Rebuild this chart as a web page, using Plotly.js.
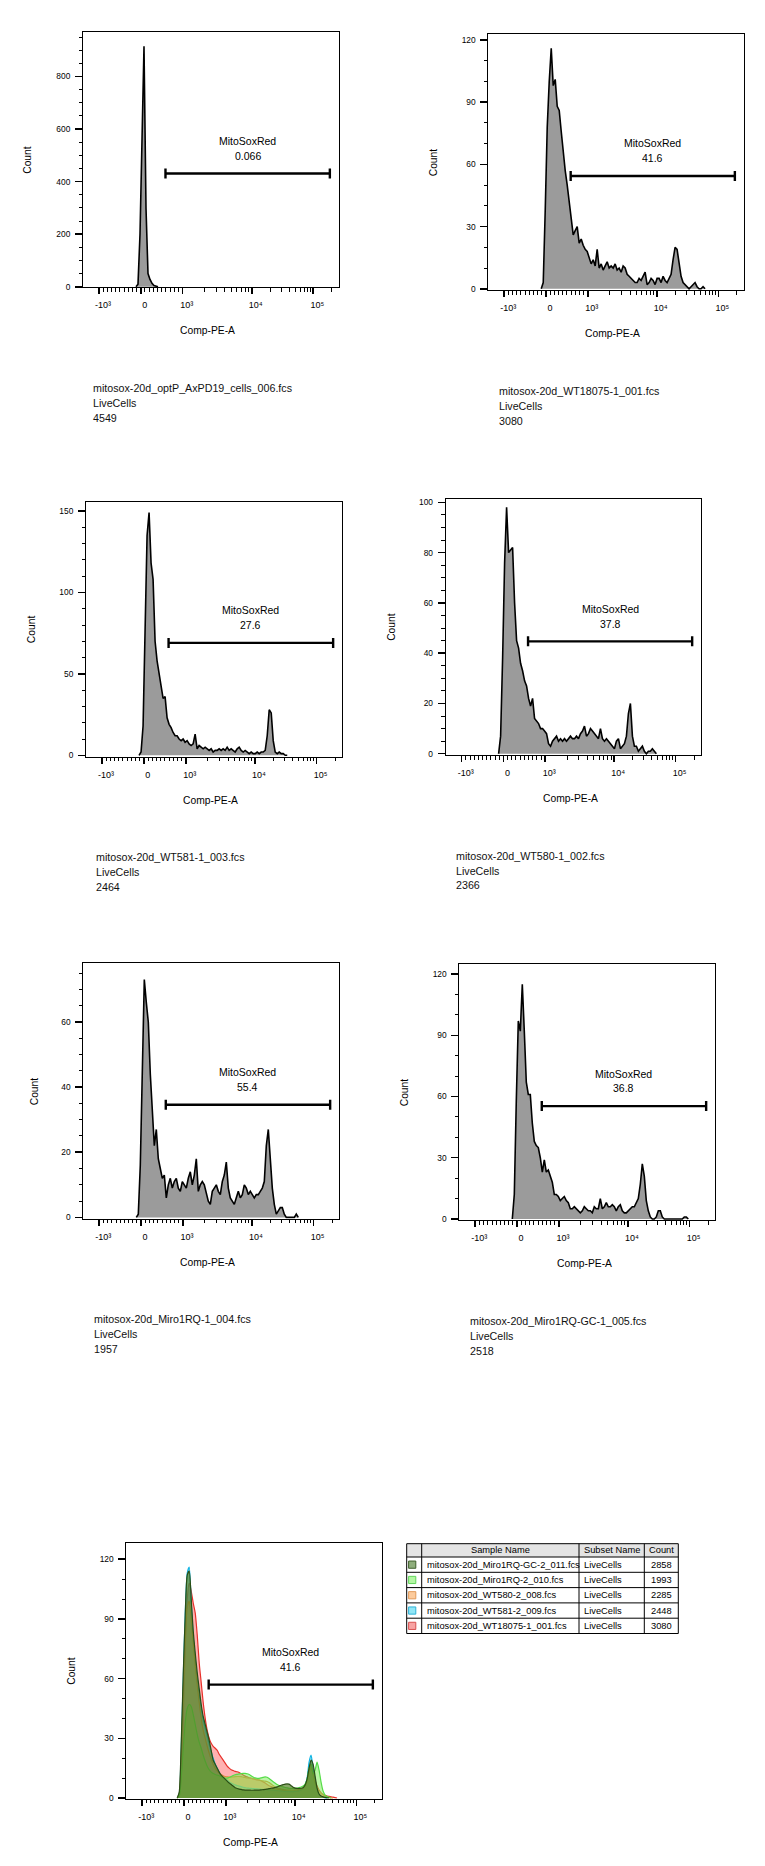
<!DOCTYPE html>
<html><head><meta charset="utf-8">
<script src="https://cdn.plot.ly/plotly-3.0.1.min.js"></script>
<style>html,body{margin:0;padding:0;background:#fff}</style>
</head><body><div id="chart" style="width:765px;height:1866px"></div>
<script>
// ================= DATA =================
// Histogram counts per display channel bin (bin width 2 display channels), first bin centre given.
const BIN = 2;

const p1_firstU = 53;
const p1_counts = [0, 10, 200, 560, 915, 300, 50, 28, 13, 5, 1, 0];

const p2_firstU = 53;
const p2_counts = [0, 3, 38, 78, 100, 116, 98, 101, 88, 86, 76, 66, 57, 50, 41, 32, 26, 28, 30, 22,
  24, 21, 19, 18, 15, 12, 14, 11, 19, 10, 12, 9, 11, 13, 10, 11, 10, 12, 9, 10,
  8, 11, 10, 7, 6, 5, 4, 3, 3, 5, 4, 6, 8, 2, 3, 5, 4, 2, 5, 5,
  3, 6, 4, 3, 5, 7, 14, 20, 19, 11, 6, 3, 2, 1, 0, 1, 2, 3, 1, 0, 0, 1, 0];

const p3_firstU = 53;
const p3_counts = [0, 2, 18, 85, 135, 149, 118, 108, 70, 58, 50, 40, 35, 36, 23, 19, 17, 14, 12, 12,
  10, 9, 10, 8, 9, 7, 6, 7, 13, 4, 6, 5, 4, 5, 4, 3, 4, 2, 3, 3,
  4, 3, 4, 3, 5, 3, 4, 3, 2, 4, 5, 3, 2, 3, 2, 1, 2, 1, 1, 2,
  1, 2, 2, 3, 12, 28, 26, 9, 2, 1, 2, 1, 1, 0, 0];

const p4_firstU = 53;
const p4_counts = [0, 7, 38, 76, 98, 80, 81, 82, 60, 45, 42, 36, 33, 29, 27, 22, 19, 22, 14, 13,
  12, 10, 10, 9, 8, 4, 3, 5, 6, 7, 5, 6, 5, 6, 5, 6, 7, 6, 6, 7,
  6, 8, 9, 11, 7, 8, 10, 9, 8, 7, 6, 10, 6, 5, 6, 5, 4, 3, 2, 5,
  6, 2, 3, 4, 7, 16, 20, 7, 3, 3, 1, 2, 3, 1, 0, 1, 1, 2, 1, 0];

const p5_firstU = 53;
const p5_counts = [0, 1, 16, 48, 73, 66, 60, 44, 33, 22, 27, 18, 15, 12, 13, 6, 10, 12, 9, 11,
  12, 9, 8, 11, 10, 9, 12, 14, 10, 13, 18, 8, 10, 11, 10, 7, 5, 4, 8, 9,
  10, 8, 7, 11, 13, 17, 9, 6, 5, 4, 6, 8, 6, 7, 10, 9, 7, 8, 7, 6,
  7, 7, 8, 9, 11, 22, 27, 16, 9, 4, 1, 2, 3, 3, 1, 0, 0, 0, 0, 0, 1, 0];

const p6_firstU = 53;
const p6_counts = [0, 12, 58, 97, 92, 115, 92, 67, 61, 61, 47, 38, 36, 35, 30, 23, 29, 23, 24, 21,
  18, 12, 12, 11, 9, 10, 11, 9, 8, 5, 5, 6, 5, 4, 3, 4, 6, 5, 4, 4,
  3, 6, 5, 5, 10, 5, 6, 8, 6, 6, 7, 6, 4, 6, 7, 4, 3, 3, 4, 5,
  6, 6, 8, 10, 17, 27, 21, 9, 4, 1, 0, 0, 1, 4, 4, 1, 0, 0, 0, 0,
  0, 0, 0, 0, 0, 0, 1, 1, 0];

// Overlay (smoothed) series, first bin centre 51
const ov_firstU = 51;
const ov_GC2 = [0, 3, 28, 62, 92, 112, 114, 100, 84, 73, 63, 55, 47, 41, 37, 33, 29, 24, 19, 17,
  15, 13, 11.5, 10.5, 9.5, 8.5, 7.5, 6.8, 6, 5.2, 4.8, 4.5, 4.3, 4.1, 4, 4, 4, 3.9, 3.9, 4,
  4, 4, 4.1, 4.2, 4.3, 4.5, 4.7, 4.9, 5, 5.3, 5.6, 6, 6.4, 6.7, 7, 7.1, 7, 6.2, 5.4, 5,
  4.8, 4.8, 4.9, 5.2, 6.5, 9.5, 15, 19, 17, 11, 5, 2, 1, 0.6, 0.3, 0.1, 0];
const ov_RQ2 = [0, 1, 10, 25, 38, 45, 47, 46, 42, 37, 32, 28, 25, 21.5, 18.5, 16, 14.2, 13, 12.3, 11.8,
  11.5, 11.2, 10.8, 10.3, 10, 10, 10.3, 10.8, 11.3, 11.7, 11.9, 12.1, 12.3, 12.4, 12.4, 12.2, 11.8, 11.2, 10.6, 10.1,
  9.9, 9.9, 10.1, 10.4, 10.6, 10.4, 9.8, 9, 8.2, 7.5, 6.8, 6.3, 5.9, 5.6, 5.3, 5.1, 4.9, 4.8, 4.8, 4.9,
  5, 5.2, 5.5, 6, 7, 9.5, 15, 17, 12, 14, 18, 14, 8, 3.5, 1.5, 0.7, 0.3, 0];
const ov_WT580 = [0, 2, 20, 52, 80, 96, 99, 90, 78, 67, 57, 48, 40, 34, 30, 26, 22.5, 19.5, 17, 15,
  13.5, 12.5, 11.8, 11.2, 10.8, 10.6, 10.5, 10.5, 10.6, 10.7, 10.8, 10.8, 10.7, 10.5, 10.3, 10.1, 10, 9.9, 9.8, 9.6,
  9.4, 9.1, 8.8, 8.6, 8.5, 8.3, 7.8, 7, 6.3, 5.6, 5.1, 4.8, 4.5, 4.3, 4.1, 4, 4, 3.9, 3.9, 4,
  4.1, 4.3, 4.6, 5, 6, 8.5, 13, 15.5, 12, 7.5, 5, 3.5, 2.5, 1.6, 1, 0.6, 0.3, 0.1, 0];
const ov_WT581 = [0, 2, 25, 60, 93, 113, 116, 98, 81, 70, 60, 52, 45, 39, 35, 31, 27, 23, 20, 17,
  15, 13, 11, 10, 9.5, 9, 8.2, 7.5, 7, 6.6, 6.3, 6, 5.7, 5.4, 5.2, 5, 4.9, 4.8, 4.7, 4.6,
  4.6, 4.5, 4.4, 4.3, 4.2, 4.1, 4, 4, 3.9, 3.8, 3.7, 3.6, 3.5, 3.4, 3.3, 3.2, 3.2, 3.2, 3.2, 3.3,
  3.4, 3.6, 4, 5, 6.5, 10, 18, 21.5, 15, 8, 4, 1.8, 0.9, 0.4, 0.1, 0];
const ov_WT18075 = [0, 1, 10, 40, 75, 100, 108, 104, 98, 93, 82, 68, 58, 48, 40, 34, 30, 27.5, 26, 25,
  24, 22, 20.5, 19, 17.5, 16, 15, 14.2, 13.8, 13.4, 13.2, 12.8, 12.2, 11.6, 11, 10.6, 10.2, 9.9, 9.6, 9.3,
  9.1, 8.9, 8.6, 8.1, 7.5, 6.8, 6.2, 5.8, 5.4, 5, 4.6, 4.3, 4, 3.8, 3.6, 3.4, 3.3, 3.2, 3.2, 3.3,
  3.5, 3.8, 4.2, 4.8, 5.7, 8, 13, 17, 14, 9, 6, 4, 2.6, 1.8, 1.3, 1, 0.8, 0.6, 0.4, 0.2, 0];

// Gate (data units) and results
const gateRange = [590, 186000];
const gateName = 'MitoSoxRed';
const gateValues = ['0.066', '41.6', '27.6', '37.8', '55.4', '36.8', '41.6'];
const gateY = [431, 54.4, 69.0, 44.7, 34.6, 55.3, 57.0];

// Sample captions
const fileNames = ['mitosox-20d_optP_AxPD19_cells_006.fcs', 'mitosox-20d_WT18075-1_001.fcs',
  'mitosox-20d_WT581-1_003.fcs', 'mitosox-20d_WT580-1_002.fcs',
  'mitosox-20d_Miro1RQ-1_004.fcs', 'mitosox-20d_Miro1RQ-GC-1_005.fcs'];
const subsetName = 'LiveCells';
const eventCounts = ['4549', '3080', '2464', '2366', '1957', '2518'];

// Overlay table
const tableNames = ['mitosox-20d_Miro1RQ-GC-2_011.fcs', 'mitosox-20d_Miro1RQ-2_010.fcs',
  'mitosox-20d_WT580-2_008.fcs', 'mitosox-20d_WT581-2_009.fcs', 'mitosox-20d_WT18075-1_001.fcs'];
const tableSubsets = ['LiveCells', 'LiveCells', 'LiveCells', 'LiveCells', 'LiveCells'];
const tableCounts = ['2858', '1993', '2285', '2448', '3080'];

// Axis ticks (data units)
const xMajor = [-1000, 0, 1000, 10000, 100000];
const xMajorText = ['-10\u00B3', '0', '10\u00B3', '10\u2074', '10\u2075'];
const xMinor = [-900,-800,-700,-600,-500,-400,-300,-200,-100,100,200,300,400,500,600,700,800,900,
  2000,3000,4000,5000,6000,7000,8000,9000,20000,30000,40000,50000,60000,70000,80000,90000,200000];
const yMajorStep = [200, 30, 50, 20, 20, 30, 30];
const yMinorStep = [50, 10, 10, 5, 5, 10, 10];
const yRanges = [[-2, 968], [-0.6, 122.9], [-0.86, 155.7], [-0.5, 101.2], [-0.4, 78], [-0.5, 124.9], [-0.35, 128]];

// ================= SCALE (biexponential display) =================
const ZERO_U = 57.8, LIN_SLOPE = 0.04183;
const LOG_L = [3, 3.301, 3.699, 4, 4.699, 5, 5.5];
const LOG_U = [99.63, 121.5, 148.5, 168.7, 212.5, 230.3, 261];
function toU(v) {
  if (v <= 1000) return ZERO_U + LIN_SLOPE * v;
  const l = Math.log10(v);
  for (let i = 0; i < LOG_L.length - 1; i++) {
    if (l <= LOG_L[i + 1]) return LOG_U[i] + (l - LOG_L[i]) / (LOG_L[i + 1] - LOG_L[i]) * (LOG_U[i + 1] - LOG_U[i]);
  }
  return LOG_U[LOG_U.length - 1];
}

// ================= LAYOUT GEOMETRY (px) =================
const W = 765, H = 1866;
const frames = [
  {l: 83, r: 339, t: 32.3, b: 287.3},
  {l: 488.3, r: 744, t: 34, b: 290},
  {l: 86, r: 342.3, t: 501.7, b: 756.7},
  {l: 445.7, r: 701.3, t: 499.3, b: 755},
  {l: 83.3, r: 339.3, t: 963.3, b: 1218.7},
  {l: 459.3, r: 715.3, t: 964, b: 1220},
  {l: 126.3, r: 382, t: 1543.3, b: 1798.7}
];
const countOff = [55, 55, 55, 55, 49, 55, 55.5];
const px = x => x / W, py = y => 1 - y / H;
const FONT = 'Liberation Sans, Arial, sans-serif';

const singles = [
  [p1_firstU, p1_counts], [p2_firstU, p2_counts], [p3_firstU, p3_counts],
  [p4_firstU, p4_counts], [p5_firstU, p5_counts], [p6_firstU, p6_counts]
];

const traces = [];
singles.forEach((p, i) => {
  const ax = i === 0 ? '' : String(i + 1);
  traces.push({
    type: 'scatter', mode: 'lines',
    x: p[1].map((_, k) => p[0] + k * BIN), y: p[1],
    xaxis: 'x' + ax, yaxis: 'y' + ax,
    fill: 'tozeroy', fillcolor: '#9b9b9b',
    line: {color: '#000', width: 1.6}, hoverinfo: 'skip'
  });
});

// Overlay: drawn bottom-to-top
const overlay = [
  {y: ov_WT18075, line: '#e8302a', fill: 'rgba(255,70,70,0.42)'},
  {y: ov_WT581, line: '#10b4e4', fill: 'rgba(20,200,240,0.42)'},
  {y: ov_WT580, line: '#d98b3c', fill: 'rgba(255,165,80,0.45)'},
  {y: ov_RQ2, line: '#55dc48', fill: 'rgba(120,235,80,0.5)'},
  {y: ov_GC2, line: '#2b4e15', fill: 'rgba(80,128,36,0.68)'}
];
overlay.forEach(s => {
  traces.push({
    type: 'scatter', mode: 'lines',
    x: s.y.map((_, k) => ov_firstU + k * BIN), y: s.y,
    xaxis: 'x7', yaxis: 'y7', fill: 'tozeroy', fillcolor: s.fill,
    line: {color: s.line, width: 1.2, shape: 'spline', smoothing: 0.6}, hoverinfo: 'skip'
  });
});

const layout = {
  width: W, height: H, margin: {l: 0, r: 0, t: 0, b: 0},
  paper_bgcolor: '#fff', plot_bgcolor: '#fff', showlegend: false,
  font: {family: FONT, color: '#000', size: 10},
  shapes: [], annotations: []
};

const gU0 = toU(gateRange[0]), gU1 = toU(gateRange[1]), gUc = (gU0 + gU1) / 2;

frames.forEach((f, i) => {
  const n = i === 0 ? '' : String(i + 1);
  layout['xaxis' + n] = {
    domain: [px(f.l), px(f.r)], anchor: 'y' + n, range: [0, 256],
    showline: true, mirror: true, linecolor: '#000', linewidth: 1,
    showgrid: false, zeroline: false, fixedrange: true,
    tickmode: 'array', tickvals: xMajor.map(toU), ticktext: xMajorText,
    ticks: 'outside', ticklen: 6, tickwidth: 1.6, tickcolor: '#000',
    ticklabelstandoff: 3, ticklabelshift: 4,
    tickfont: {size: 9, family: FONT, color: '#000'},
    minor: {tickmode: 'array', tickvals: xMinor.map(toU), ticks: 'outside', ticklen: 3.5, tickwidth: 1, tickcolor: '#000'}
  };
  layout['yaxis' + n] = {
    domain: [py(f.b), py(f.t)], anchor: 'x' + n, range: yRanges[i],
    showline: true, mirror: true, linecolor: '#000', linewidth: 1,
    showgrid: false, zeroline: false, fixedrange: true,
    tickmode: 'linear', tick0: 0, dtick: yMajorStep[i],
    ticks: 'outside', ticklen: 7, tickwidth: 1.5, tickcolor: '#000',
    ticklabelstandoff: 3,
    tickfont: {size: 8.4, family: FONT, color: '#000'},
    minor: {tick0: 0, dtick: yMinorStep[i], ticks: 'outside', ticklen: 3.5, tickwidth: 1, tickcolor: '#000'}
  };
  const xr = 'x' + n, yr = 'y' + n;
  // gate bar
  layout.shapes.push({type: 'line', xref: xr, yref: yr, x0: gU0, x1: gU1, y0: gateY[i], y1: gateY[i], line: {color: '#000', width: 2.4}});
  [gU0, gU1].forEach(u => layout.shapes.push({type: 'line', xref: xr, yref: yr, ysizemode: 'pixel', yanchor: gateY[i], x0: u, x1: u, y0: -5, y1: 5, line: {color: '#000', width: 2.4}}));
  layout.annotations.push({xref: xr, yref: yr, x: gUc, y: gateY[i], yshift: 32.5, text: gateName, showarrow: false, font: {size: 10.5, family: FONT, color: '#000'}, xanchor: 'center', yanchor: 'middle'});
  layout.annotations.push({xref: xr, yref: yr, x: gUc, y: gateY[i], yshift: 17.7, text: gateValues[i], showarrow: false, font: {size: 10.5, family: FONT, color: '#000'}, xanchor: 'center', yanchor: 'middle'});
  // axis titles
  layout.annotations.push({xref: 'paper', yref: 'paper', x: px(f.l - countOff[i]), y: py((f.t + f.b) / 2), text: 'Count', textangle: -90, showarrow: false, font: {size: 10.3, family: FONT, color: '#000'}, xanchor: 'center', yanchor: 'middle'});
  layout.annotations.push({xref: 'paper', yref: 'paper', x: px((f.l + f.r) / 2 - 3.3), y: py(f.b + 43.5), text: 'Comp-PE-A', showarrow: false, font: {size: 10.3, family: FONT, color: '#000'}, xanchor: 'center', yanchor: 'middle'});
  // captions
  if (i < 6) {
    [fileNames[i], subsetName, eventCounts[i]].forEach((t, k) => {
      layout.annotations.push({xref: 'paper', yref: 'paper', x: px(f.l + 8.3), y: py(f.b + 100.5 + 15 * k), text: t, showarrow: false, font: {size: 10.7, family: FONT, color: '#111'}, xanchor: 'left', yanchor: 'middle'});
    });
  }
});

// ---- overlay table ----
const T = {x0: 406.7, x1: 421.7, x2: 579, x3: 644.3, x4: 678.3, y0: 1543.7, yh: 1557, rh: 15.3};
const swatchFill = ['#8fae7c', '#b4f7a4', '#fccb9c', '#90e6f6', '#f8a3a3'];
const swatchLine = ['#3f5f2c', '#62d65c', '#e29a5a', '#2fb2d8', '#d85050'];
const tBottom = T.yh + T.rh * tableNames.length;
const pl = (x0, y0, x1, y1) => ({type: 'line', xref: 'paper', yref: 'paper', x0: px(x0), y0: py(y0), x1: px(x1), y1: py(y1), line: {color: '#000', width: 1}});
layout.shapes.push({type: 'rect', xref: 'paper', yref: 'paper', x0: px(T.x0), x1: px(T.x4), y0: py(T.yh), y1: py(T.y0), fillcolor: '#e4e4e4', line: {width: 0}, layer: 'below'});
layout.shapes.push({type: 'rect', xref: 'paper', yref: 'paper', x0: px(T.x0), x1: px(T.x4), y0: py(tBottom), y1: py(T.y0), line: {color: '#000', width: 1}});
[T.x1, T.x2, T.x3].forEach(x => layout.shapes.push(pl(x, T.y0, x, tBottom)));
for (let r = 0; r < tableNames.length; r++) layout.shapes.push(pl(T.x0, T.yh + T.rh * r, T.x4, T.yh + T.rh * r));
const hdrFont = {size: 9.3, family: FONT, color: '#000'};
[['Sample Name', (T.x1 + T.x2) / 2], ['Subset Name', (T.x2 + T.x3) / 2], ['Count', (T.x3 + T.x4) / 2]].forEach(h => {
  layout.annotations.push({xref: 'paper', yref: 'paper', x: px(h[1]), y: py((T.y0 + T.yh) / 2), text: h[0], showarrow: false, font: hdrFont, xanchor: 'center', yanchor: 'middle'});
});
tableNames.forEach((name, r) => {
  const yc = T.yh + T.rh * r + T.rh / 2;
  layout.shapes.push({type: 'rect', xref: 'paper', yref: 'paper', x0: px(408.6), x1: px(415.8), y0: py(yc + 3.6), y1: py(yc - 3.6), fillcolor: swatchFill[r], line: {color: swatchLine[r], width: 1}});
  layout.annotations.push({xref: 'paper', yref: 'paper', x: px(T.x1 + 3), y: py(yc), text: name, showarrow: false, font: hdrFont, xanchor: 'left', yanchor: 'middle'});
  layout.annotations.push({xref: 'paper', yref: 'paper', x: px(T.x2 + 2.5), y: py(yc), text: tableSubsets[r], showarrow: false, font: hdrFont, xanchor: 'left', yanchor: 'middle'});
  layout.annotations.push({xref: 'paper', yref: 'paper', x: px(T.x4 - 4.5), y: py(yc), text: tableCounts[r], showarrow: false, font: hdrFont, xanchor: 'right', yanchor: 'middle'});
});

Plotly.newPlot('chart', traces, layout, {staticPlot: true, displayModeBar: false});
</script>
</body></html>
